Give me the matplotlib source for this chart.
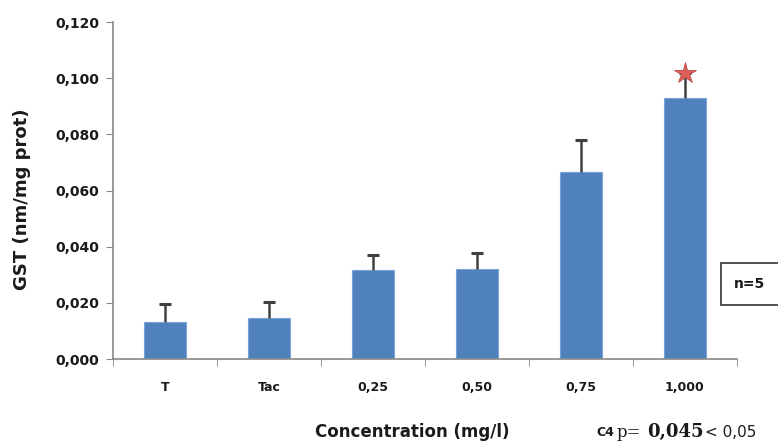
import matplotlib
matplotlib.use("Agg")
import matplotlib.pyplot as plt
from matplotlib.patches import Rectangle
import numpy as np

categories = ["T", "Tac", "0,25", "0,50", "0,75", "1,000"]
values = [0.0132, 0.0147, 0.0318, 0.0320, 0.0666, 0.0930]
errors = [0.0064, 0.0056, 0.0052, 0.0058, 0.0114, 0.0090]
yticks = [0.0, 0.02, 0.04, 0.06, 0.08, 0.10, 0.12]
ytick_labels = ["0,000", "0,020", "0,040", "0,060", "0,080", "0,100", "0,120"]
sig_index = 5

plt.rcParams['font.family'] = ['DejaVu Sans']

fig = plt.figure(figsize=(7.78, 4.43), dpi=100)
ax = fig.add_axes([0.1452, 0.1896, 0.8020, 0.7604])

x = np.arange(len(categories))
vals = np.array(values)
errs = np.array(errors)
bar_color = "#4F81BD"
ax.bar(x, vals, width=0.40, color=bar_color, edgecolor="#7aa3d6", linewidth=0.8, zorder=2)
ax.vlines(x, vals, vals + errs, color="#404040", linewidth=1.8, zorder=3)
ax.plot(x, vals + errs, linestyle="none", marker="_", markersize=8,
        markeredgewidth=2.2, color="#404040", zorder=3)

ax.plot([x[sig_index]], [vals[sig_index] + errs[sig_index]], marker="*",
        markersize=16, color="#DE5F5A", markeredgecolor="#b84a46",
        markeredgewidth=0.6, zorder=4)

ax.set_xlim(-0.5, len(categories) - 0.5)
ax.set_ylim(0, 0.12)
ax.set_yticks(yticks)
ax.set_yticklabels(ytick_labels, fontsize=10, fontweight="bold", color="#1a1a1a")
ax.set_xticks(x)
ax.set_xticklabels(categories, fontsize=9, fontweight="bold", color="#1a1a1a")
ax.tick_params(axis="x", which="major", length=0, pad=16)
ax.set_xticks(np.arange(-0.5, len(categories), 1.0), minor=True)
ax.tick_params(axis="x", which="minor", length=5, color="#888888", direction="out")
ax.tick_params(axis="y", length=5, color="#888888", direction="out", pad=5)

for s in ["top", "right"]:
    ax.spines[s].set_visible(False)
for s in ["left", "bottom"]:
    ax.spines[s].set_color("#888888")
    ax.spines[s].set_linewidth(1.2)

ax.set_ylabel("GST (nm/mg prot)", fontsize=13, fontweight="bold", color="#1a1a1a")
ax.yaxis.set_label_coords(-0.131, 0.475)

fig.text(0.530, 0.024, "Concentration (mg/l)", fontsize=12, fontweight="bold",
         ha="center", va="center", color="#1a1a1a")

fig.text(0.767, 0.024, "C4", fontsize=9, fontweight="bold", ha="left", va="center", color="#1a1a1a")
fig.text(0.793, 0.024, "p=", fontsize=12, family="DejaVu Serif", ha="left", va="center", color="#1a1a1a")
fig.text(0.832, 0.024, "0,045", fontsize=13, fontweight="bold", family="DejaVu Serif",
         ha="left", va="center", color="#1a1a1a")
fig.text(0.906, 0.024, "< 0,05", fontsize=11, ha="left", va="center", color="#1a1a1a")

fig.patches.append(Rectangle((0.927, 0.312), 0.12, 0.094, transform=fig.transFigure,
                             facecolor="white", edgecolor="#333333", linewidth=1.2))
fig.text(0.964, 0.359, "n=5", fontsize=10, fontweight="bold", ha="center", va="center",
         color="#1a1a1a")

fig.savefig("out.png", dpi=100)
